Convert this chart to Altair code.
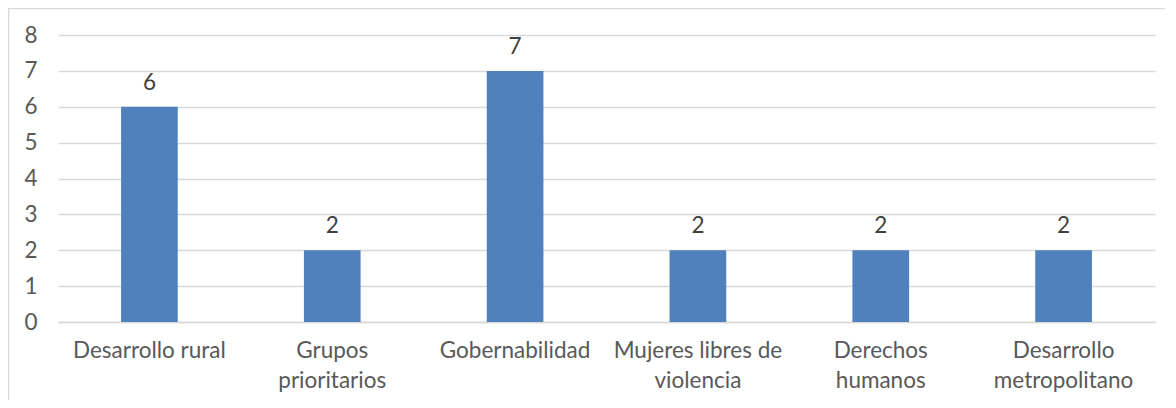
import json
import altair as alt
import pandas as pd

categories = [
    "Desarrollo rural",
    "Grupos prioritarios",
    "Gobernabilidad",
    "Mujeres libres de violencia",
    "Derechos humanos",
    "Desarrollo metropolitano",
]
values = [6, 2, 7, 2, 2, 2]
label_lines = [
    ["Desarrollo rural"],
    ["Grupos", "prioritarios"],
    ["Gobernabilidad"],
    ["Mujeres libres de", "violencia"],
    ["Derechos", "humanos"],
    ["Desarrollo", "metropolitano"],
]
y_ticks = [0, 1, 2, 3, 4, 5, 6, 7, 8]

df = pd.DataFrame({"cat": categories, "val": values})
label_expr = json.dumps(dict(zip(categories, label_lines))) + "[datum.value]"

W, H = 1097, 287
FONT = "Lato"
FS = 22.5

x = alt.X(
    "cat:N",
    sort=categories,
    scale=alt.Scale(paddingInner=0.69, paddingOuter=0.345),
    axis=alt.Axis(
        title=None, labelAngle=0, labelExpr=label_expr, labelFont=FONT,
        labelFontSize=FS, labelColor="#595959", labelPadding=17,
        labelLineHeight=30, labelLimit=400, ticks=False,
        domainColor="#D9D9D9", domainWidth=1.5, labelBaseline="top",
    ),
)
y = alt.Y(
    "val:Q",
    scale=alt.Scale(domain=[0, 8], nice=False),
    axis=alt.Axis(
        values=y_ticks, tickCount=9, title=None, domain=False, ticks=False,
        gridColor="#D9D9D9", gridWidth=1.5, labelPadding=21,
        labelFont=FONT, labelFontSize=FS, labelColor="#595959",
        labelOverlap=False,
    ),
)

base = alt.Chart(df)
bars = base.mark_bar(color="#4F81BD").encode(x=x, y=y)
texts = base.mark_text(
    baseline="alphabetic", dy=-17, font=FONT, fontSize=FS, color="#404040"
).encode(x=x, y=y, text="val:Q")

frame = alt.Chart(alt.Data(values=[{"a": 1}])).mark_rect(
    fill=None, stroke="#D9D9D9", strokeWidth=1.5
).encode(
    x=alt.value(-49.5), x2=alt.value(W + 300),
    y=alt.value(-26.5), y2=alt.value(H + 300),
)

chart = alt.layer(frame, bars, texts).properties(
    width=W, height=H,
    padding={"left": 50, "top": 27, "right": 10, "bottom": 78},
    autosize="none",
).configure_view(stroke=None)

chart.save("out.html", embed_options={"renderer": "svg", "actions": False})
